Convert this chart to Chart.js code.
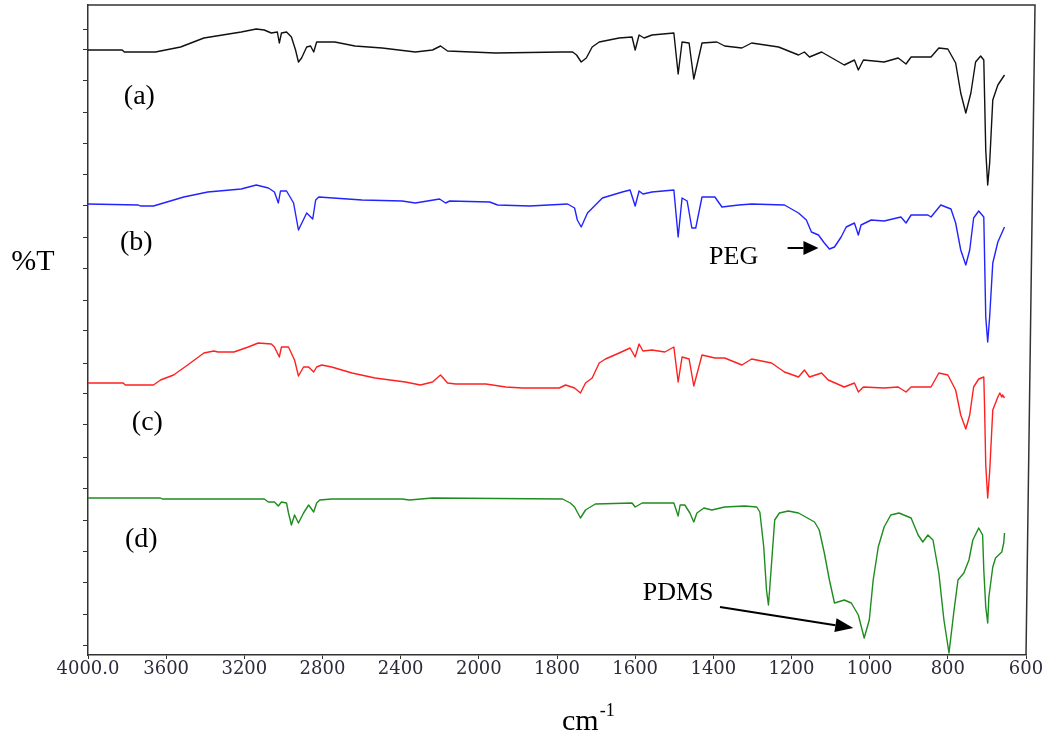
<!DOCTYPE html>
<html lang="en">
<head>
<meta charset="utf-8">
<title>FTIR spectra (a)-(d)</title>
<script src="https://cdn.jsdelivr.net/npm/chart.js@4.4.0/dist/chart.umd.min.js"></script>
<style>
    html, body { margin: 0; padding: 0; background: #fff; }
    #wrap { width: 1043px; height: 738px; }
</style>
</head>
<body>
<div id="wrap"><canvas id="ftirChart" width="1043" height="738"></canvas></div>
<script>
// ===============================
// DATA (wavenumber cm-1, %T in arbitrary offset units)
// ===============================
const xTickValues = [4000, 3600, 3200, 2800, 2400, 2000, 1800, 1600, 1400, 1200, 1000, 800, 600]
const xTickLabels = ['4000.0', '3600', '3200', '2800', '2400', '2000', '1800', '1600', '1400', '1200', '1000', '800', '600']
const yTickValues = [1.0, 4.1, 7.3, 10.4, 13.5, 16.7, 19.8, 23.0, 26.1, 29.2, 32.4, 35.5, 38.6, 41.8, 44.9, 48.1, 51.2, 54.3, 57.5, 60.6, 62.6]
const curveNames = ['(a)', '(b)', '(c)', '(d)']

const traceA = [
    [4000, 60.5], [3825, 60.5], [3814, 60.3], [3655, 60.3], [3526, 60.8], [3407, 61.7], [3216, 62.3],
    [3139, 62.6], [3098, 62.5], [3062, 62.2], [3031, 62.3], [3021, 61.2], [3010, 62.2], [2984, 62.3],
    [2959, 61.8], [2938, 60.5], [2923, 59.3], [2907, 59.7], [2881, 60.8], [2861, 60.9], [2845, 60.3],
    [2830, 61.3], [2737, 61.3], [2634, 60.9], [2495, 60.7], [2325, 60.3], [2237, 60.5], [2196, 60.9],
    [2160, 60.4], [1957, 60.2], [1786, 60.3], [1760, 60.3], [1750, 60.0], [1738, 59.3], [1725, 59.7],
    [1710, 60.8], [1692, 61.3], [1641, 61.7], [1608, 61.8], [1600, 60.5], [1590, 62.0], [1577, 61.7],
    [1557, 62.0], [1501, 62.2], [1490, 58.1], [1480, 61.3], [1462, 61.2], [1450, 57.6], [1429, 61.2],
    [1391, 61.3], [1371, 60.9], [1327, 60.7], [1302, 61.2], [1233, 60.8], [1182, 60.0], [1167, 60.3],
    [1154, 59.8], [1123, 60.3], [1065, 59.0], [1039, 59.5], [1029, 58.5], [1016, 59.5], [963, 59.3],
    [927, 59.7], [907, 59.1], [894, 59.8], [843, 59.8], [823, 60.7], [800, 60.6], [780, 59.2],
    [767, 56.2], [754, 54.2], [741, 56.2], [729, 59.3], [716, 59.9], [708, 59.5], [703, 50.5],
    [698, 47.0], [693, 49.2], [685, 55.5], [672, 57.0], [655, 58.0]
]

const traceB = [
    [4000, 45.1], [3742, 45.0], [3732, 44.9], [3665, 44.9], [3510, 45.8], [3387, 46.3], [3216, 46.6],
    [3139, 47.0], [3077, 46.7], [3046, 46.3], [3026, 45.2], [3015, 46.4], [2984, 46.4], [2948, 45.2],
    [2923, 42.5], [2881, 44.2], [2850, 43.6], [2835, 45.5], [2819, 45.8], [2598, 45.5], [2392, 45.4],
    [2325, 45.2], [2201, 45.6], [2170, 45.2], [2149, 45.4], [1972, 45.3], [1952, 45.0], [1870, 44.9],
    [1773, 45.1], [1755, 44.7], [1748, 43.5], [1738, 42.8], [1722, 44.2], [1684, 45.7], [1633, 46.3],
    [1613, 46.5], [1600, 44.9], [1590, 46.4], [1580, 46.1], [1557, 46.3], [1501, 46.5], [1490, 41.8],
    [1480, 45.7], [1467, 45.4], [1455, 42.7], [1445, 42.7], [1429, 45.8], [1396, 45.8], [1378, 44.8],
    [1335, 45.0], [1302, 45.1], [1218, 45.0], [1182, 44.2], [1162, 43.5], [1149, 42.3], [1131, 42.0],
    [1116, 41.2], [1103, 40.6], [1090, 40.8], [1073, 41.8], [1060, 42.8], [1039, 43.2], [1029, 42.0],
    [1022, 43.0], [996, 43.5], [963, 43.4], [920, 43.8], [907, 43.2], [894, 44.0], [851, 44.0],
    [843, 43.8], [818, 45.0], [792, 44.6], [780, 43.2], [767, 40.5], [754, 39.0], [744, 40.5],
    [734, 43.7], [721, 44.4], [708, 43.8], [703, 33.8], [698, 31.3], [693, 33.8], [685, 39.2],
    [672, 41.3], [655, 42.8]
]

const traceC = [
    [4000, 27.2], [3820, 27.2], [3809, 27.0], [3665, 27.0], [3629, 27.5], [3562, 28.0], [3490, 29.0],
    [3407, 30.2], [3356, 30.4], [3335, 30.3], [3253, 30.3], [3180, 30.8], [3129, 31.2], [3062, 31.1],
    [3046, 30.8], [3021, 29.8], [3010, 30.8], [2974, 30.8], [2943, 29.5], [2923, 27.9], [2897, 28.8],
    [2871, 28.8], [2845, 28.3], [2830, 28.8], [2804, 29.0], [2753, 28.8], [2649, 28.2], [2531, 27.7],
    [2376, 27.3], [2299, 27.0], [2237, 27.3], [2196, 28.0], [2160, 27.2], [2118, 27.1], [1982, 27.1],
    [1931, 26.8], [1888, 26.7], [1794, 26.7], [1778, 27.0], [1755, 26.7], [1740, 26.2], [1727, 27.2],
    [1710, 27.7], [1692, 29.2], [1676, 29.6], [1641, 30.2], [1613, 30.7], [1600, 29.8], [1590, 31.1],
    [1580, 30.4], [1557, 30.5], [1524, 30.3], [1501, 30.8], [1490, 27.3], [1480, 29.8], [1462, 29.6],
    [1450, 26.9], [1429, 30.0], [1396, 29.7], [1371, 29.7], [1327, 29.0], [1302, 29.6], [1251, 29.2],
    [1218, 28.3], [1182, 27.8], [1167, 28.5], [1154, 27.8], [1123, 28.2], [1106, 27.5], [1065, 26.8],
    [1039, 27.2], [1029, 26.3], [1016, 26.8], [963, 26.7], [927, 26.8], [907, 26.3], [894, 26.8],
    [843, 26.8], [823, 28.2], [800, 28.0], [780, 26.5], [767, 24.0], [754, 22.6], [744, 24.0],
    [734, 26.8], [721, 27.6], [708, 27.8], [706, 24.8], [703, 19.0], [698, 15.7], [693, 18.3],
    [685, 24.5], [672, 25.8], [667, 26.2], [662, 25.8], [660, 26.0], [655, 25.7]
]

const traceD = [
    [4000, 15.7], [3629, 15.7], [3619, 15.6], [3098, 15.6], [3077, 15.3], [3046, 15.3], [3026, 14.9],
    [3010, 15.3], [2984, 15.2], [2974, 14.2], [2959, 13.0], [2943, 14.0], [2923, 13.2], [2897, 14.2],
    [2871, 15.0], [2845, 14.3], [2830, 15.2], [2814, 15.5], [2753, 15.6], [2392, 15.6], [2356, 15.5],
    [2237, 15.7], [1786, 15.6], [1766, 15.2], [1755, 14.8], [1740, 13.7], [1727, 14.5], [1702, 15.1],
    [1608, 15.2], [1600, 14.8], [1582, 15.2], [1501, 15.2], [1490, 13.9], [1485, 15.0], [1473, 15.0],
    [1460, 14.2], [1450, 13.3], [1442, 14.2], [1424, 14.7], [1404, 14.5], [1371, 14.8], [1320, 14.9],
    [1289, 14.8], [1281, 14.3], [1271, 10.8], [1264, 6.5], [1259, 5.0], [1256, 6.5], [1248, 10.8],
    [1243, 13.5], [1231, 14.2], [1208, 14.4], [1182, 14.2], [1141, 13.3], [1129, 12.5], [1116, 10.2],
    [1103, 7.5], [1090, 5.2], [1065, 5.5], [1047, 5.2], [1029, 4.0], [1014, 1.7], [1001, 3.5],
    [991, 7.5], [978, 10.8], [963, 12.8], [946, 14.0], [925, 14.2], [894, 13.7], [876, 12.0],
    [864, 11.3], [851, 12.0], [838, 11.5], [823, 8.2], [810, 3.5], [797, 0.2], [785, 4.2],
    [774, 7.5], [759, 8.2], [746, 9.5], [736, 11.5], [721, 12.7], [711, 12.0], [708, 8.5],
    [703, 4.8], [698, 3.2], [695, 5.8], [685, 8.8], [678, 9.7], [662, 10.3], [657, 11.2], [655, 12.2]
]

// ===============================
// AXIS: the spectrometer doubles the scale below 2000 cm-1
// ===============================
function axisU(wn) {
    return wn <= 2000 ? wn : 2000 + (wn - 2000) / 2
}

function toPoints(trace) {
    return trace.map(p => ({ x: axisU(p[0]), y: p[1] }))
}

function drawArrow(ctx, x1, y1, x2, y2, headLen, headHalf) {
    const ang = Math.atan2(y2 - y1, x2 - x1)
    const bx = x2 - headLen * Math.cos(ang)
    const by = y2 - headLen * Math.sin(ang)
    ctx.beginPath()
    ctx.moveTo(x1, y1)
    ctx.lineTo(bx, by)
    ctx.stroke()
    ctx.beginPath()
    ctx.moveTo(x2, y2)
    ctx.lineTo(bx + headHalf * Math.sin(ang), by - headHalf * Math.cos(ang))
    ctx.lineTo(bx - headHalf * Math.sin(ang), by + headHalf * Math.cos(ang))
    ctx.closePath()
    ctx.fill()
}

// frame, curve letters, PEG / PDMS arrows, axis titles
const annotations = {
    id: 'annotations',
    afterDraw(chart) {
        const { ctx, chartArea, scales } = chart
        const px = wn => scales.x.getPixelForValue(axisU(wn))
        const py = v => scales.y.getPixelForValue(v)
        ctx.save()

        ctx.strokeStyle = '#333'
        ctx.lineWidth = 1.5
        ctx.beginPath()
        ctx.moveTo(chartArea.left, chartArea.top)
        ctx.lineTo(chartArea.right + 9, chartArea.top)
        ctx.lineTo(chartArea.right, chartArea.bottom)
        ctx.stroke()

        ctx.fillStyle = '#000'
        ctx.textAlign = 'center'
        ctx.textBaseline = 'middle'
        ctx.font = '28px "Liberation Serif"'
        const letterPos = [[3737, 55.8], [3753, 41.2], [3696, 23.2], [3727, 11.5]]
        curveNames.forEach((name, i) => {
            ctx.fillText(name, px(letterPos[i][0]), py(letterPos[i][1]))
        })

        ctx.font = '26px "Liberation Serif"'
        ctx.fillText('PEG', px(1348), py(39.8))
        ctx.fillText('PDMS', px(1490), py(6.2))

        ctx.strokeStyle = '#000'
        ctx.lineWidth = 2
        drawArrow(ctx, px(1210), py(40.7), px(1131), py(40.7), 15, 7)
        drawArrow(ctx, px(1383), py(4.8), px(1042), py(2.7), 18, 7)

        ctx.font = '30px "Liberation Serif"'
        ctx.fillText('%T', 33, 262)

        ctx.textAlign = 'left'
        ctx.textBaseline = 'alphabetic'
        ctx.font = '30px "Liberation Serif"'
        ctx.fillText('cm', 562, 730)
        const cmWidth = ctx.measureText('cm').width
        ctx.font = '18px "Liberation Serif"'
        ctx.fillText('-1', 562 + cmWidth + 1, 716)

        ctx.restore()
    }
}

// ===============================
// CHART
// ===============================
const ctx = document.getElementById('ftirChart').getContext('2d')

const lineStyle = { pointRadius: 0, borderWidth: 1.4, tension: 0, fill: false, borderJoinStyle: 'round' }

new Chart(ctx, {
    type: 'line',
    data: {
        datasets: [
            { label: curveNames[0], data: toPoints(traceA), borderColor: '#111111', ...lineStyle },
            { label: curveNames[1], data: toPoints(traceB), borderColor: '#2323ff', ...lineStyle },
            { label: curveNames[2], data: toPoints(traceC), borderColor: '#ff2020', ...lineStyle },
            { label: curveNames[3], data: toPoints(traceD), borderColor: '#1e8c1e', ...lineStyle }
        ]
    },
    options: {
        responsive: false,
        animation: false,
        layout: { padding: { left: 0, right: 17, top: 5, bottom: 0 } },
        plugins: {
            legend: { display: false },
            tooltip: { enabled: false }
        },
        scales: {
            x: {
                type: 'linear',
                reverse: true,
                min: axisU(600),
                max: axisU(4000),
                afterBuildTicks: scale => {
                    scale.ticks = xTickValues.map(v => ({ value: axisU(v) }))
                },
                afterFit: scale => {
                    scale.height = 83
                    scale.paddingLeft = 0
                    scale.paddingRight = 0
                },
                ticks: {
                    autoSkip: false,
                    maxRotation: 0,
                    padding: 0,
                    color: '#2b2b3b',
                    font: { family: 'DejaVu Serif', size: 18 },
                    callback: function(value) {
                        const i = xTickValues.findIndex(v => axisU(v) === value)
                        return i >= 0 ? xTickLabels[i] : ''
                    }
                },
                grid: { drawOnChartArea: false, drawTicks: true, tickLength: 4, color: '#333' },
                border: { display: true, color: '#333', width: 1.5 }
            },
            y: {
                type: 'linear',
                min: 0,
                max: 65,
                afterBuildTicks: scale => {
                    scale.ticks = yTickValues.map(v => ({ value: v }))
                },
                afterFit: scale => {
                    scale.width = 88
                },
                ticks: { display: false },
                grid: { drawOnChartArea: false, drawTicks: true, tickLength: 5, color: '#333' },
                border: { display: true, color: '#333', width: 1.5 }
            }
        }
    },
    plugins: [annotations]
})
</script>
</body>
</html>
